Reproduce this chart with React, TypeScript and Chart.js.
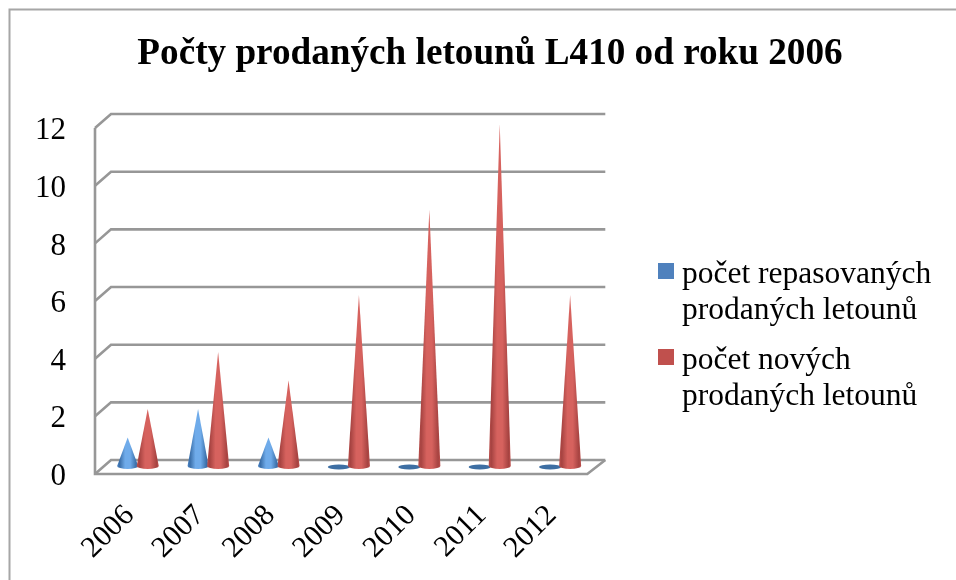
import React, { useEffect, useRef } from "react";
import { Chart, registerables } from "chart.js";

Chart.register(...registerables);

const years = ["2006", "2007", "2008", "2009", "2010", "2011", "2012"];
const repasovane = [1, 2, 1, 0, 0, 0, 0];
const nove = [2, 4, 3, 6, 9, 12, 6];
const titleText = "Počty prodaných letounů L410 od roku 2006";
const labelRepasovane = "počet repasovaných prodaných letounů";
const labelNove = "počet nových prodaných letounů";
const legendLinesRepasovane = ["počet repasovaných", "prodaných letounů"];
const legendLinesNove = ["počet nových", "prodaných letounů"];

const FONT = "'Liberation Serif', 'Times New Roman', serif";
const GRID = "#979797";
const DEPTH_X = 16;
const DEPTH_Y = 14;

const frame = {
  id: "frame",
  afterLayout(chart: any) {
    if (chart.titleBlock) {
      chart.titleBlock.left = 24;
      chart.titleBlock.right = 956;
    }
  },
  beforeDraw(chart: any) {
    const c = chart.ctx;
    c.save();
    c.strokeStyle = "#a6a6a6";
    c.lineWidth = 2;
    c.beginPath();
    c.moveTo(9.5, 580);
    c.lineTo(9.5, 9.5);
    c.lineTo(956, 9.5);
    c.stroke();
    c.restore();
  },
};

const cones = {
  id: "cones",
  beforeDatasetsDraw(chart: any) {
    const c = chart.ctx;
    const y = chart.scales.y;
    const left = chart.chartArea.left - 7.5;
    const right = chart.chartArea.right - 8;
    c.save();
    c.strokeStyle = GRID;
    c.lineWidth = 2.6;
    c.lineJoin = "miter";
    y.ticks.forEach((t: any) => {
      const py = y.getPixelForValue(t.value);
      c.beginPath();
      c.moveTo(left, py);
      c.lineTo(left + DEPTH_X, py - DEPTH_Y);
      c.lineTo(right + DEPTH_X + 2, py - DEPTH_Y);
      c.stroke();
    });
    const p0 = y.getPixelForValue(0);
    c.beginPath();
    c.moveTo(left, y.getPixelForValue(y.max));
    c.lineTo(left, p0);
    c.lineTo(right, p0);
    c.lineTo(right + DEPTH_X + 2, p0 - DEPTH_Y);
    c.stroke();

    const palette = [
      { edge: "#3a6ea8", dim: "#4a85c8", mid: "#6fabea", flat: "#3d6ea3" },
      { edge: "#a64341", dim: "#bd4f4c", mid: "#d6625e", flat: "#b54a47" },
    ];
    chart.data.datasets.forEach((_: any, di: number) => {
      const meta = chart.getDatasetMeta(di);
      const col = palette[di];
      meta.data.forEach((el: any) => {
        const p = el.getProps(["x", "y", "base", "width"], true);
        const w = di === 0 ? p.width : p.width + 1;
        const baseY = p.base - 8;
        const tip = baseY + (p.y - p.base) * 0.988;
        const rx = w / 2 + 0.5;
        if (p.y === p.base) {
          c.fillStyle = col.flat;
          c.beginPath();
          c.ellipse(p.x, baseY + 1, rx + 0.5, 2.6, 0, 0, Math.PI * 2);
          c.fill();
          return;
        }
        const g = c.createLinearGradient(p.x - rx, 0, p.x + rx, 0);
        g.addColorStop(0, col.dim);
        g.addColorStop(0.12, col.edge);
        g.addColorStop(0.38, col.mid);
        g.addColorStop(0.62, col.mid);
        g.addColorStop(0.9, col.edge);
        g.addColorStop(1, col.dim);
        c.fillStyle = g;
        c.beginPath();
        c.moveTo(p.x, tip);
        c.lineTo(p.x + rx, baseY);
        c.ellipse(p.x, baseY, rx, 3, 0, 0, Math.PI);
        c.closePath();
        c.fill();
      });
    });
    c.restore();
    return false;
  },
};

const sideLegend = {
  id: "sideLegend",
  afterDraw(chart: any) {
    const c = chart.ctx;
    const items = [
      { lines: legendLinesRepasovane, di: 0, boxTop: 263, baselines: [283, 319] },
      { lines: legendLinesNove, di: 1, boxTop: 349, baselines: [369, 405] },
    ];
    c.save();
    c.font = `31.5px ${FONT}`;
    c.textAlign = "left";
    c.textBaseline = "alphabetic";
    items.forEach((it) => {
      c.fillStyle = chart.data.datasets[it.di].backgroundColor;
      c.fillRect(658, it.boxTop, 16, 16);
      c.fillStyle = "#000";
      it.lines.forEach((s, i) => c.fillText(s, 682, it.baselines[i]));
    });
    c.restore();
  },
};

export default function App() {
  const ref = useRef<HTMLCanvasElement>(null);
  useEffect(() => {
    const chart = new Chart(ref.current as HTMLCanvasElement, {
      type: "bar",
      data: {
        labels: years,
        datasets: [
          { label: labelRepasovane, data: repasovane, backgroundColor: "#4f81bd" },
          { label: labelNove, data: nove, backgroundColor: "#c0504d" },
        ],
      },
      plugins: [frame, cones, sideLegend],
      options: {
        responsive: false,
        animation: false,
        layout: { padding: { left: 0, right: 360.7, top: 0, bottom: 0 } },
        datasets: { bar: { categoryPercentage: 0.57, barPercentage: 1 } },
        plugins: {
          legend: { display: false },
          tooltip: { enabled: false },
          title: {
            display: true,
            text: titleText,
            color: "#000",
            fullSize: true,
            align: "center",
            font: { family: FONT, size: 37.2, weight: "bold" },
            padding: { top: 32, bottom: 51.4 },
          },
        },
        scales: {
          x: {
            grid: { display: false, drawTicks: false },
            border: { display: false },
            afterFit(s: any) {
              s.height = 106;
            },
            ticks: {
              color: "#000",
              font: { family: FONT, size: 30 },
              minRotation: 45,
              maxRotation: 45,
              autoSkip: false,
              padding: 24,
              labelOffset: -8,
            },
          },
          y: {
            min: 0,
            max: 12,
            grid: { display: false, drawTicks: false },
            border: { display: false },
            afterFit(s: any) {
              s.width = 102.5;
            },
            ticks: {
              stepSize: 2,
              color: "#000",
              font: { family: FONT, size: 31 },
              padding: 36.5,
              labelOffset: 3,
            },
          },
        },
      },
    } as any);
    return () => chart.destroy();
  }, []);
  return (
    <div style={{ position: "fixed", left: 0, top: 0, width: 956, height: 580, background: "#fff" }}>
      <canvas ref={ref} width={956} height={580} style={{ display: "block" }} />
    </div>
  );
}
